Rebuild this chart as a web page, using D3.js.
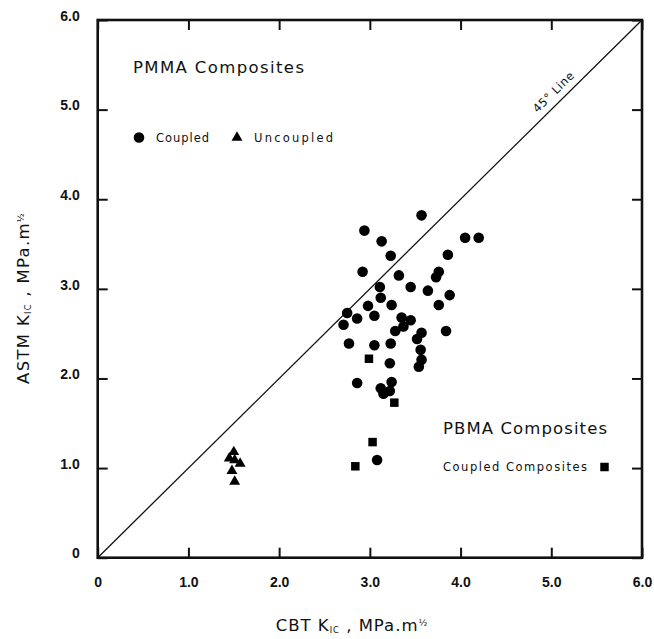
<!DOCTYPE html>
<html>
<head>
<meta charset="utf-8">
<script src="https://cdn.jsdelivr.net/npm/d3@7"></script>
<style>
  body { margin: 0; background: #fff; }
  svg text { fill: #111; }
</style>
</head>
<body>
<svg id="chart" width="654" height="639"></svg>
<script>
// Axis ticks and labels
const tickValues = [0, 1, 2, 3, 4, 5, 6];
const tickLabels = ["0", "1.0", "2.0", "3.0", "4.0", "5.0", "6.0"];

// PMMA composites, coupled: CBT KIC (x) vs ASTM KIC (y)
const pmmaCoupledX = [3.57, 2.94, 3.13, 4.05, 4.20, 3.23, 3.86, 2.92, 3.76, 3.73,
                      3.32, 3.11, 3.45, 3.64, 3.88, 3.12, 2.98, 3.24, 3.76, 2.75,
                      2.86, 3.05, 2.71, 3.35, 3.45, 3.37, 3.28, 3.57, 3.52, 3.84,
                      2.77, 3.05, 3.23, 3.56, 3.57, 3.54, 3.22, 2.86, 3.24, 3.12,
                      3.15, 3.22, 3.08];
const pmmaCoupledY = [3.82, 3.65, 3.53, 3.57, 3.57, 3.37, 3.38, 3.19, 3.19, 3.13,
                      3.15, 3.02, 3.02, 2.98, 2.93, 2.90, 2.81, 2.82, 2.82, 2.73,
                      2.67, 2.70, 2.60, 2.68, 2.65, 2.58, 2.53, 2.51, 2.44, 2.53,
                      2.39, 2.37, 2.39, 2.32, 2.21, 2.13, 2.17, 1.95, 1.96, 1.89,
                      1.83, 1.86, 1.09];

// PMMA composites, uncoupled
const pmmaUncoupledX = [1.50, 1.45, 1.57, 1.51, 1.48, 1.51];
const pmmaUncoupledY = [1.18, 1.11, 1.05, 1.09, 0.97, 0.85];

// PBMA composites, coupled
const pbmaCoupledX = [2.99, 3.27, 3.03, 2.84];
const pbmaCoupledY = [2.22, 1.73, 1.29, 1.02];

const svg = d3.select("#chart");
const font = "'DejaVu Sans', 'Liberation Sans', sans-serif";

const x = d3.scaleLinear().domain([0, 6]).range([97.7, 642]);
const y = d3.scaleLinear().domain([0, 6]).range([557.7, 20]);

const zip = (xs, ys) => xs.map((v, i) => [v, ys[i]]);

// Frame
svg.append("rect")
  .attr("x", x(0)).attr("y", y(6))
  .attr("width", x(6) - x(0)).attr("height", y(0) - y(6))
  .attr("fill", "none").attr("stroke", "#111").attr("stroke-width", 2.6);

// Ticks pointing inward on all four sides
function styleAxis(g) {
  g.select(".domain").remove();
  g.selectAll(".tick line").attr("stroke", "#111").attr("stroke-width", 2);
  g.selectAll(".tick text")
    .attr("font-family", "'Liberation Sans', Arial, sans-serif")
    .attr("font-weight", "bold")
    .attr("font-size", 14)
    .attr("fill", "#111");
}

svg.append("g")
  .attr("transform", `translate(0,${y(0)})`)
  .call(d3.axisBottom(x).tickValues(tickValues)
    .tickFormat((d, i) => tickLabels[i])
    .tickSizeInner(-10).tickSizeOuter(0).tickPadding(19))
  .call(styleAxis);

svg.append("g")
  .attr("transform", `translate(${x(0)},0)`)
  .call(d3.axisLeft(y).tickValues(tickValues)
    .tickFormat((d, i) => tickLabels[i])
    .tickSizeInner(-10).tickSizeOuter(0).tickPadding(18))
  .call(styleAxis)
  .selectAll(".tick text").attr("dy", "0.02em");

svg.append("g")
  .attr("transform", `translate(0,${y(6)})`)
  .call(d3.axisTop(x).tickValues(tickValues).tickFormat("")
    .tickSizeInner(-10).tickSizeOuter(0))
  .call(styleAxis);

svg.append("g")
  .attr("transform", `translate(${x(6)},0)`)
  .call(d3.axisRight(y).tickValues(tickValues).tickFormat("")
    .tickSizeInner(-10).tickSizeOuter(0))
  .call(styleAxis);

// 45 degree reference line
svg.append("path")
  .datum([[0, 0], [6, 6]])
  .attr("d", d3.line().x(d => x(d[0])).y(d => y(d[1])))
  .attr("fill", "none").attr("stroke", "#111").attr("stroke-width", 1.3);

const angle = -Math.atan2(y(0) - y(6), x(6) - x(0)) * 180 / Math.PI;
svg.append("text")
  .attr("transform", `translate(${x(5.1) - 4},${y(5.1) - 6}) rotate(${angle})`)
  .attr("text-anchor", "middle")
  .attr("font-family", font).attr("font-size", 11.5)
  .attr("letter-spacing", 0.6)
  .text("45° Line");

// Data marks
const sym = (type, size) => d3.symbol().type(type).size(size)();

svg.append("g").selectAll("path")
  .data(zip(pmmaCoupledX, pmmaCoupledY))
  .join("path")
  .attr("d", sym(d3.symbolCircle, 88))
  .attr("transform", d => `translate(${x(d[0])},${y(d[1])})`)
  .attr("fill", "#000");

svg.append("g").selectAll("path")
  .data(zip(pmmaUncoupledX, pmmaUncoupledY))
  .join("path")
  .attr("d", sym(d3.symbolTriangle, 52))
  .attr("transform", d => `translate(${x(d[0])},${y(d[1])})`)
  .attr("fill", "#000");

svg.append("g").selectAll("path")
  .data(zip(pbmaCoupledX, pbmaCoupledY))
  .join("path")
  .attr("d", sym(d3.symbolSquare, 72))
  .attr("transform", d => `translate(${x(d[0])},${y(d[1])})`)
  .attr("fill", "#000");

// Group titles and legends
svg.append("text")
  .attr("x", 133).attr("y", 73)
  .attr("font-family", font).attr("font-size", 16.5)
  .attr("textLength", 171).attr("lengthAdjust", "spacing")
  .text("PMMA  Composites");

svg.append("path").attr("d", sym(d3.symbolCircle, 88))
  .attr("transform", "translate(139,137.5)").attr("fill", "#000");
svg.append("text")
  .attr("x", 156).attr("y", 141.5)
  .attr("font-family", font).attr("font-size", 11.5)
  .attr("textLength", 53).attr("lengthAdjust", "spacing")
  .text("Coupled");
svg.append("path").attr("d", sym(d3.symbolTriangle, 52))
  .attr("transform", "translate(237,137.5)").attr("fill", "#000");
svg.append("text")
  .attr("x", 254).attr("y", 141.5)
  .attr("font-family", font).attr("font-size", 11.5)
  .attr("textLength", 79).attr("lengthAdjust", "spacing")
  .text("Uncoupled");

svg.append("text")
  .attr("x", 443).attr("y", 434)
  .attr("font-family", font).attr("font-size", 16.5)
  .attr("textLength", 164).attr("lengthAdjust", "spacing")
  .text("PBMA  Composites");
svg.append("text")
  .attr("x", 443).attr("y", 470.5)
  .attr("font-family", font).attr("font-size", 11.5)
  .attr("textLength", 144).attr("lengthAdjust", "spacing")
  .text("Coupled  Composites");
svg.append("path").attr("d", sym(d3.symbolSquare, 72))
  .attr("transform", "translate(604.5,467)").attr("fill", "#000");

// Axis titles
function kicTitle(sel, prefix) {
  sel.append("tspan").text(prefix + "  K");
  sel.append("tspan").attr("font-size", "0.5em").attr("dy", "0.25em").text("IC");
  sel.append("tspan").attr("dy", "-0.12em").text(" ,  MPa.m");
  sel.append("tspan").attr("font-size", "0.55em").attr("dy", "-0.6em").text("½");
}

svg.append("text")
  .attr("x", 352).attr("y", 631)
  .attr("text-anchor", "middle")
  .attr("font-family", font).attr("font-size", 16.5)
  .attr("letter-spacing", 1)
  .call(kicTitle, "CBT");

svg.append("text")
  .attr("transform", "translate(29,298) rotate(-90)")
  .attr("text-anchor", "middle")
  .attr("font-family", font).attr("font-size", 16.5)
  .attr("letter-spacing", 1.3)
  .call(kicTitle, "ASTM");
</script>
</body>
</html>
